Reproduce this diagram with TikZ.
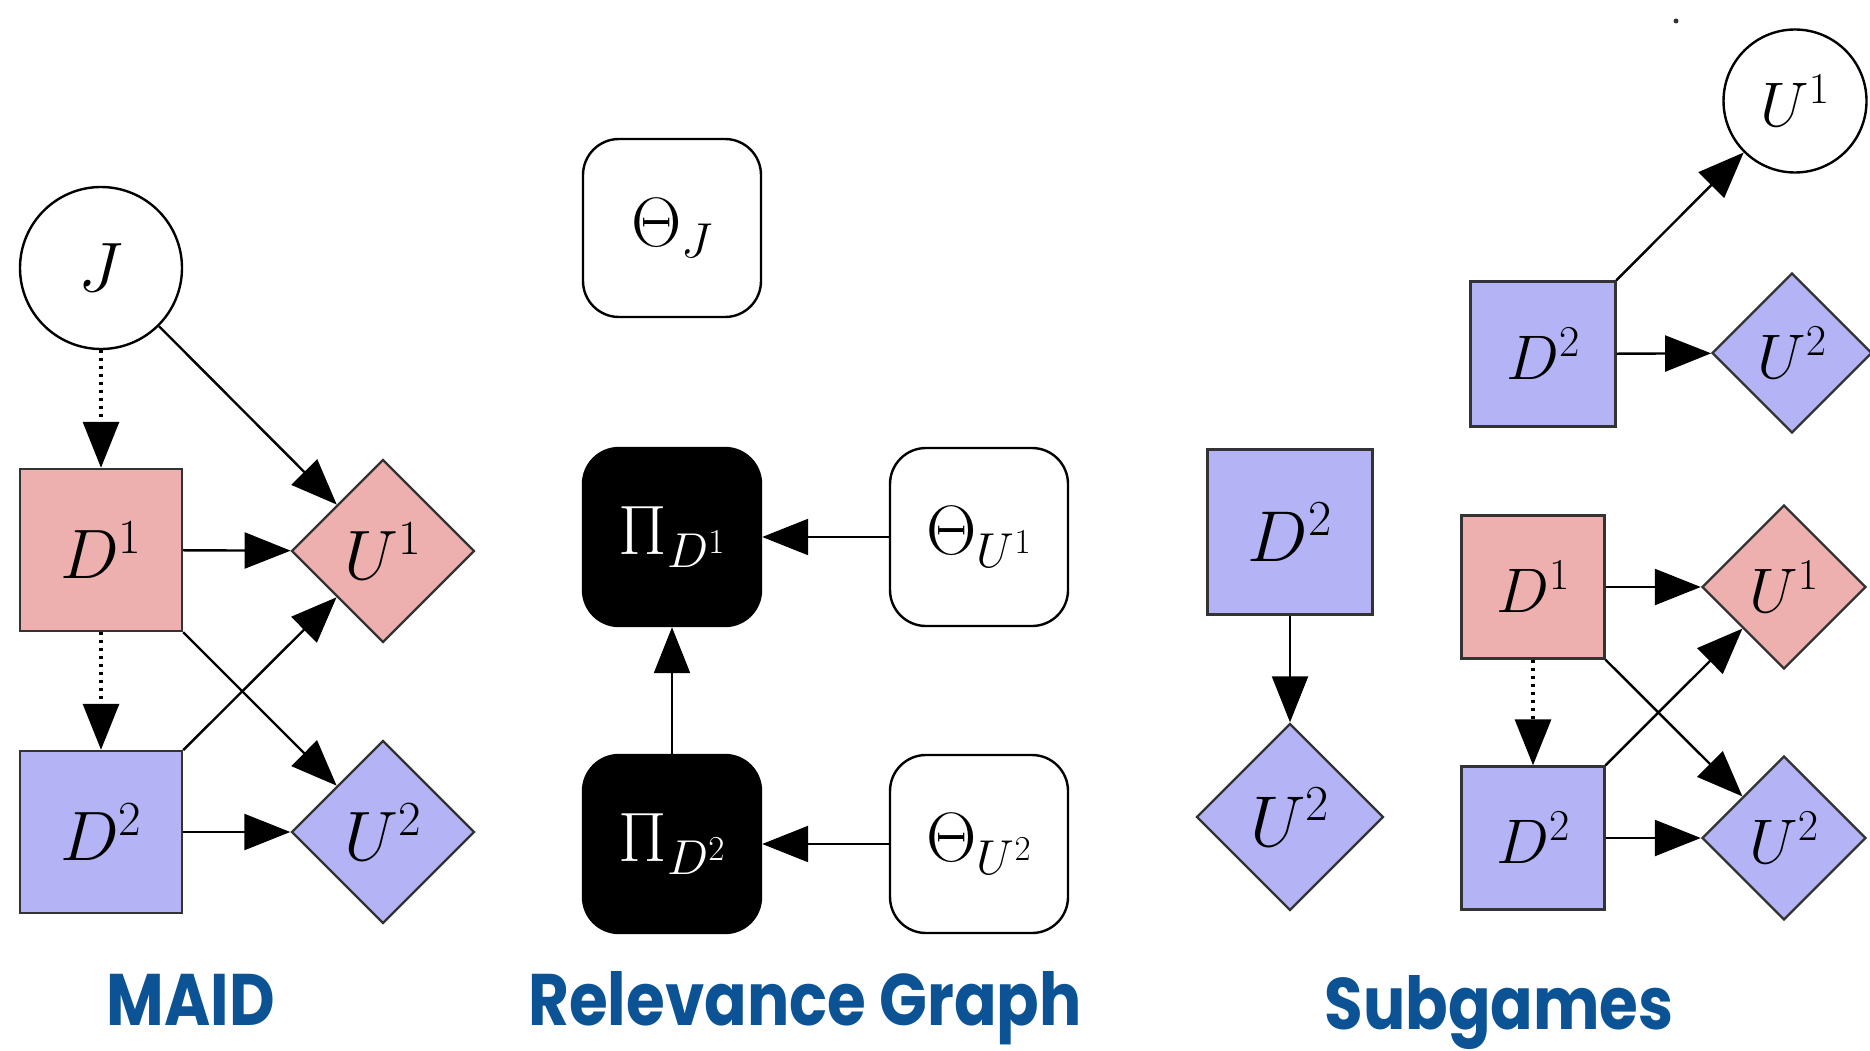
\RequirePackage{fix-cm}
\documentclass[tikz,border=0pt]{standalone}
\usepackage{fontspec}
\usepackage{graphicx}
\newfontfamily\labfont{Poppins}
\usetikzlibrary{shapes.geometric,arrows.meta}
\definecolor{dpink}{HTML}{EDB0AE}
\definecolor{dblue}{HTML}{B3B3F5}
\definecolor{labblue}{HTML}{0B5394}
\definecolor{edgegray}{HTML}{333333}
\newcommand{\labtext}[1]{\scalebox{0.86}[1]{#1}}
\begin{document}
\begin{tikzpicture}[x=1pt,y=-1pt,
  every node/.style={inner sep=0pt, line width=2.4pt},
  bigm/.style={font=\fontsize{70}{80}\selectfont},
  midm/.style={font=\fontsize{63}{72}\selectfont},
  decbox/.style={draw=edgegray, rectangle, minimum size=#1},
  utilbox/.style={draw=edgegray, diamond, minimum width=#1, minimum height=#1},
  chance/.style={draw=black, circle, minimum size=#1},
  rgbox/.style={draw=black, rectangle, rounded corners=36pt, minimum width=178pt, minimum height=178pt, bigm},
  rgblack/.style={rgbox, fill=black, text=white},
  arr/.style={line width=2.4pt, -{Triangle[length=46pt,width=36pt]}},
  dotarr/.style={arr, line width=3.2pt, dash pattern=on 3pt off 5pt},
  lab/.style={anchor=base, text=labblue, font=\labfont\bfseries\fontsize{73}{84}\selectfont}
]
\useasboundingbox (0,0) rectangle (1870,1051);

% ---------- MAID ----------
\node[chance=162pt, bigm] (J) at (101,268) {$J$};
\node[decbox=162pt, fill=dpink, bigm] (D1) at (101,550) {$D^1$};
\node[decbox=162pt, fill=dblue, bigm] (D2) at (101,832) {$D^2$};
\node[utilbox=183pt, fill=dpink, bigm] (U1) at (383,551) {$U^1$};
\node[utilbox=183pt, fill=dblue, bigm] (U2) at (383,832) {$U^2$};
\draw[dotarr] (J) -- (D1);
\draw[dotarr] (D1) -- (D2);
\draw[arr] (J) -- (U1);
\draw[arr] (D1) -- (U1);
\draw[arr] (D1) -- (U2);
\draw[arr] (D2) -- (U1);
\draw[arr] (D2) -- (U2);

% ---------- Relevance graph ----------
\node[rgbox] (TJ) at (672,228) {$\Theta_J$};
\node[rgblack] (P1) at (672,537) {$\Pi_{D^1}$};
\node[rgblack] (P2) at (672,844) {$\Pi_{D^2}$};
\node[rgbox] (TU1) at (979,537) {$\Theta_{U^1}$};
\node[rgbox] (TU2) at (979,844) {$\Theta_{U^2}$};
\draw[arr] (TU1) -- (P1);
\draw[arr] (TU2) -- (P2);
\draw[arr] (P2) -- (P1);

% ---------- Subgames ----------
\node[decbox=165pt, fill=dblue, font=\fontsize{72}{82}\selectfont] (sD2) at (1290,532) {$D^2$};
\node[utilbox=187pt, fill=dblue, font=\fontsize{72}{82}\selectfont] (sU2) at (1290,817) {$U^2$};
\draw[arr] (sD2) -- (sU2);

\node[chance=143pt, midm] (tU1) at (1795,101) {$U^1$};
\node[decbox=145pt, fill=dblue, midm] (tD2) at (1543,354) {$D^2$};
\node[utilbox=160pt, fill=dblue, midm] (tU2) at (1792,353) {$U^2$};
\draw[arr] (tD2) -- (tU1);
\draw[arr] (tD2) -- (tU2);

\node[decbox=143pt, fill=dpink, midm] (bD1) at (1533,587) {$D^1$};
\node[decbox=143pt, fill=dblue, midm] (bD2) at (1533,838) {$D^2$};
\node[utilbox=164pt, fill=dpink, midm] (bU1) at (1784,587) {$U^1$};
\node[utilbox=164pt, fill=dblue, midm] (bU2) at (1784,838) {$U^2$};
\draw[dotarr] (bD1) -- (bD2);
\draw[arr] (bD1) -- (bU1);
\draw[arr] (bD1) -- (bU2);
\draw[arr] (bD2) -- (bU1);
\draw[arr] (bD2) -- (bU2);

\fill[black!80] (1676,21) circle (2.5pt);

% ---------- labels ----------
\node[lab] (l1) at (191,1025) {\labtext{MAID}};
\node[lab] (l2) at (805,1025) {\labtext{Relevance Graph}};
\node[lab] (l3) at (1499,1029) {\labtext{Subgames}};
\end{tikzpicture}
\end{document}
